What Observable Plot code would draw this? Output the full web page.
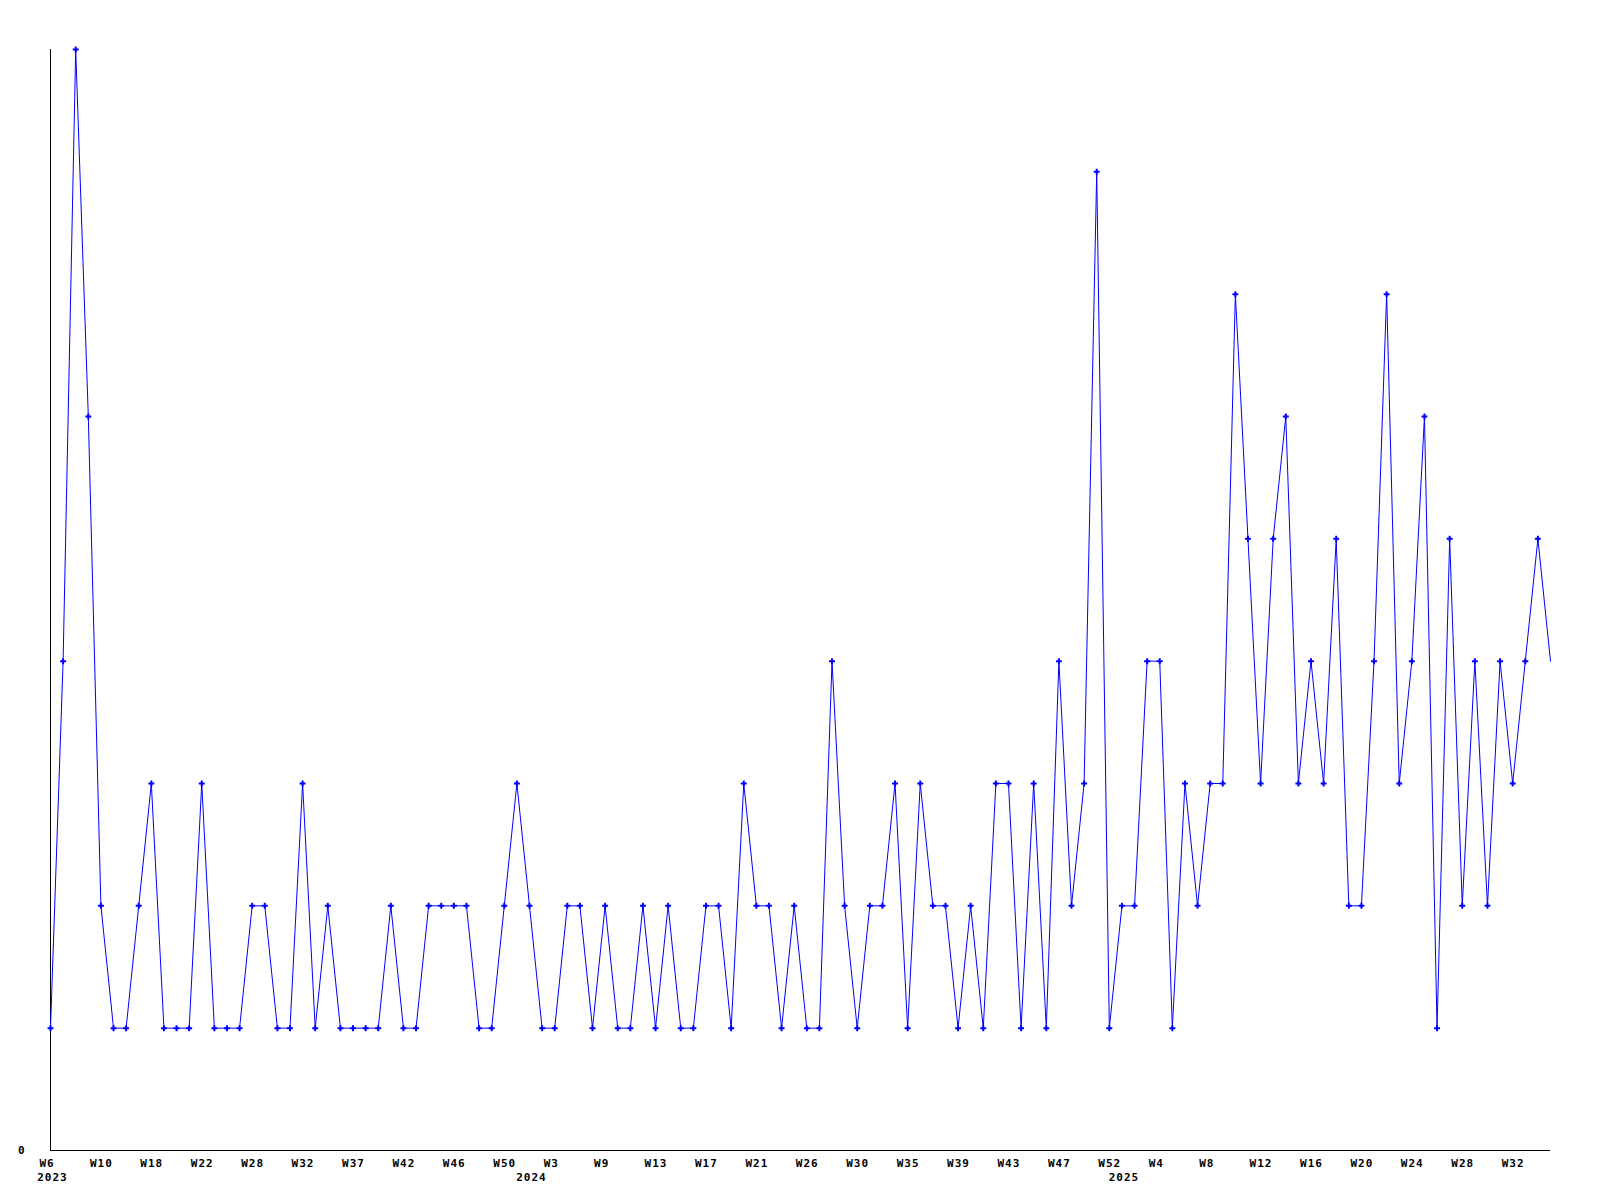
<!DOCTYPE html>
<html>
<head>
<meta charset="utf-8">
<script src="https://cdn.jsdelivr.net/npm/d3@7"></script>
<script src="https://cdn.jsdelivr.net/npm/@observablehq/plot@0.6"></script>
<style>
  html, body { margin: 0; padding: 0; background: #ffffff; }
  #chart { width: 1600px; height: 1200px; }
</style>
</head>
<body>
<div id="chart"></div>
<script>
// Weekly counts, one per plotted week (left to right)
const values = [
  1, 4, 9, 6, 2, 1, 1, 2, 3, 1,
  1, 1, 3, 1, 1, 1, 2, 2, 1, 1,
  3, 1, 2, 1, 1, 1, 1, 2, 1, 1,
  2, 2, 2, 2, 1, 1, 2, 3, 2, 1,
  1, 2, 2, 1, 2, 1, 1, 2, 1, 2,
  1, 1, 2, 2, 1, 3, 2, 2, 1, 2,
  1, 1, 4, 2, 1, 2, 2, 3, 1, 3,
  2, 2, 1, 2, 1, 3, 3, 1, 3, 1,
  4, 2, 3, 8, 1, 2, 2, 4, 4, 1,
  3, 2, 3, 3, 7, 5, 3, 5, 6, 3,
  4, 3, 5, 2, 2, 4, 7, 3, 4, 6,
  1, 5, 2, 4, 2, 4, 3, 4, 5, 4
];

// Week tick labels, one for every 4th plotted week
const tickLabels = [
  "W6", "W10", "W18", "W22", "W28", "W32", "W37", "W42", "W46", "W50",
  "W3", "W9", "W13", "W17", "W21", "W26", "W30", "W35", "W39", "W43", "W47", "W52",
  "W4", "W8", "W12", "W16", "W20", "W24", "W28", "W32"
];
const tickEvery = 4;

// Year labels and the plotted week (index) where each year begins
const years = ["2023", "2024", "2025"];
const yearStart = [0, 38, 85];

const data = values.map((v, i) => ({ i, v }));
const n = values.length;

const chart = Plot.plot({
  width: 1600,
  height: 1200,
  marginLeft: 50,
  marginRight: 50,
  marginTop: 49,
  marginBottom: 50,
  style: {
    fontFamily: "'DejaVu Sans Mono', monospace",
    fontSize: "11px",
    fontWeight: "bold",
    letterSpacing: "1px",
    background: "#ffffff",
    color: "#000000"
  },
  x: { domain: [0, n - 1], axis: null, label: null },
  y: { domain: [0, 9], axis: null, label: null },
  marks: [
    Plot.ruleX([0], { stroke: "#000000", strokeWidth: 1 }),
    Plot.ruleY([0], { stroke: "#000000", strokeWidth: 1 }),
    Plot.axisY({ ticks: [0], tickSize: 0, tickPadding: 25, tickFormat: d => String(d), fill: "#000000", label: null }),
    Plot.axisX({
      ticks: d3.range(0, n, tickEvery),
      tickSize: 0,
      tickPadding: 9,
      tickFormat: d => tickLabels[d / tickEvery],
      textAnchor: "start",
      dx: -11,
      fill: "#000000",
      label: null
    }),
    Plot.axisX({
      ticks: yearStart,
      tickSize: 0,
      tickPadding: 23,
      tickFormat: d => years[yearStart.indexOf(d)],
      dx: 2,
      fill: "#000000",
      label: null
    }),
    Plot.line(data, { x: "i", y: "v", stroke: "#0000ff", strokeWidth: 1 }),
    Plot.dot(data.slice(0, -1), { x: "i", y: "v", symbol: "cross", r: 2.5, fill: "#0000ff", stroke: "none" })
  ]
});

document.getElementById("chart").appendChild(chart);
</script>
</body>
</html>
